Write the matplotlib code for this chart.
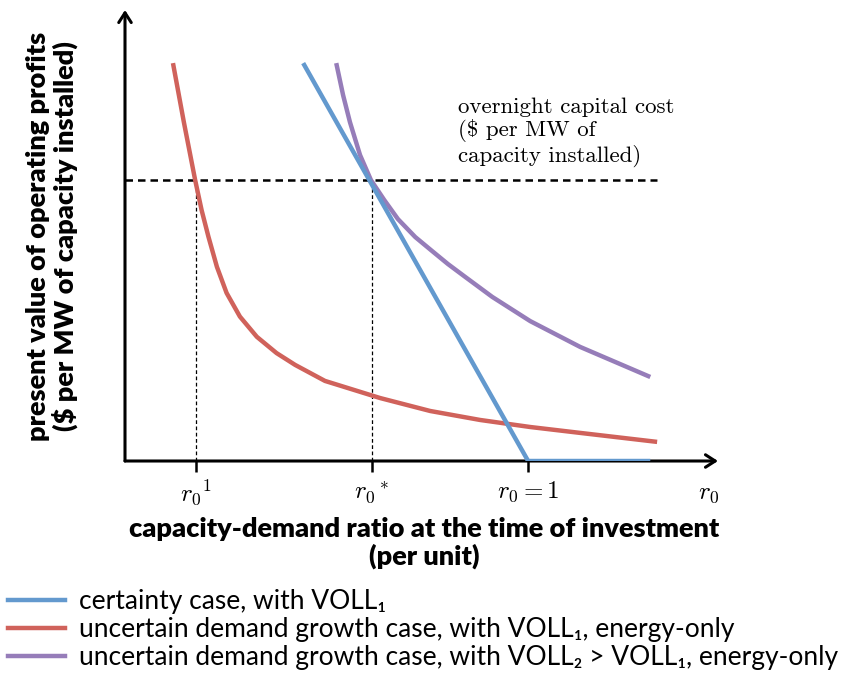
import matplotlib.pyplot as plt
from matplotlib.lines import Line2D

plt.rcParams['mathtext.fontset'] = 'cm'

# capacity-demand ratio (r0 = 1 is the certainty break-even point), value normalised to capital cost
blue_x = [0.442, 1.0, 1.303]
blue_y = [1.416, 0.0, 0.0]

red_x = [0.119, 0.146, 0.174, 0.190, 0.207, 0.228, 0.252, 0.285, 0.327, 0.376,
         0.422, 0.496, 0.633, 0.757, 0.881, 1.005, 1.129, 1.320]
red_y = [1.416, 1.206, 1.000, 0.893, 0.798, 0.691, 0.598, 0.514, 0.442, 0.384,
         0.342, 0.285, 0.224, 0.178, 0.146, 0.121, 0.100, 0.068]

purple_x = [0.524, 0.541, 0.558, 0.583, 0.610, 0.643, 0.677, 0.720, 0.762, 0.801,
            0.844, 0.911, 1.005, 1.129, 1.303]
purple_y = [1.416, 1.302, 1.206, 1.089, 1.000, 0.929, 0.861, 0.797, 0.747, 0.701,
            0.655, 0.584, 0.498, 0.406, 0.299]

capital_cost = 1.0
r0_1 = 0.176
r0_star = 0.613
tick_pos = [r0_1, r0_star, 1.0]
tick_labels = [r'$r_0{}^1$', r'$r_0{}^*$', r'$r_0 = 1$']

labels = ['certainty case, with VOLL\u2081',
          'uncertain demand growth case, with VOLL\u2081, energy-only',
          'uncertain demand growth case, with VOLL\u2082 > VOLL\u2081, energy-only']
colors = ['#6399ce', '#d0625b', '#967db9']

fig = plt.figure(figsize=(8.45, 6.75), dpi=100)
ax = fig.add_axes([125/845, (675-461)/675, (718-125)/845, (461-10)/675])
ax.set_xlim(0, 1.471)
ax.set_ylim(0, 1.605)
for s in ax.spines.values():
    s.set_visible(False)

lw = 3.2
ax.plot(red_x, red_y, color=colors[1], lw=lw, solid_capstyle='butt', solid_joinstyle='round', zorder=3)
ax.plot(blue_x, blue_y, color=colors[0], lw=lw, solid_capstyle='butt', zorder=4)
ax.plot(purple_x, purple_y, color=colors[2], lw=lw, solid_capstyle='butt', solid_joinstyle='round', zorder=3)

# capital cost line and the crossing points
ax.plot([0, 1.320], [capital_cost, capital_cost], color='black', lw=1.8, ls=(0, (3, 2)), zorder=2)
ax.plot([r0_1, r0_1], [0, capital_cost], color='black', lw=0.9, ls=(0, (3, 2)))
ax.plot([r0_star, r0_star], [0, capital_cost], color='black', lw=0.9, ls=(0, (3, 2)))

# axes with arrows
ax.annotate('', xy=(1.471, 0), xytext=(0, 0), annotation_clip=False,
            arrowprops=dict(arrowstyle='->,head_length=0.7,head_width=0.45', lw=2.2,
                            color='black', shrinkA=0, shrinkB=0))
ax.annotate('', xy=(0, 1.605), xytext=(0, 0), annotation_clip=False,
            arrowprops=dict(arrowstyle='->,head_length=0.7,head_width=0.45', lw=2.2,
                            color='black', shrinkA=0, shrinkB=0))

ax.set_yticks([])
ax.set_xticks(tick_pos)
ax.set_xticklabels(tick_labels, fontsize=18)
ax.tick_params(axis='x', direction='out', length=8, width=1.8, pad=5)
ax.text(1.447, -0.07, r'$r_0$', fontsize=18, ha='center', va='top')

ax.text(0.827, 1.295, 'overnight capital cost\n(\\$ per MW of\ncapacity installed)',
        fontsize=16.5, family='cmr10', ha='left', va='top', linespacing=1.15)

fig.text(52/845, 1 - 236/675, 'present value of operating profits\n($ per MW of capacity installed)',
         rotation=90, ha='center', va='center', fontsize=19.5, fontweight='heavy',
         family=['Lato', 'DejaVu Sans'], linespacing=1.05)
fig.text(424/845, 1 - 543/675, 'capacity-demand ratio at the time of investment\n(per unit)',
         ha='center', va='center', fontsize=19.5, fontweight='heavy',
         family=['Lato', 'DejaVu Sans'], linespacing=1.15)

handles = [Line2D([], [], color=c, lw=3.2) for c in colors]
fig.legend(handles, labels, loc='lower left', bbox_to_anchor=(0.0, -0.005),
           frameon=False, handlelength=2.15, handletextpad=0.55, labelspacing=0.12,
           borderaxespad=0.0, borderpad=0.3,
           prop={'family': ['Lato', 'DejaVu Sans'], 'size': 19})

fig.savefig('out.png', dpi=100)
